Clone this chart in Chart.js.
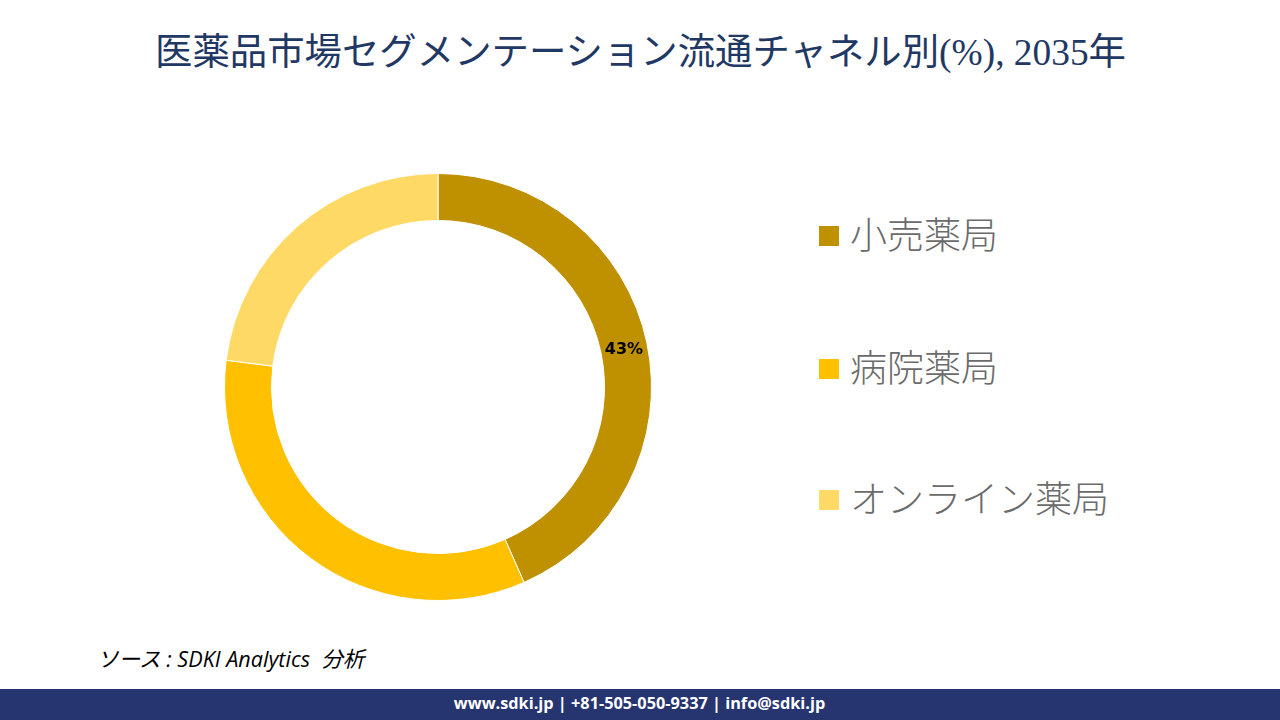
<!DOCTYPE html>
<html lang="ja">
<head>
<meta charset="utf-8">
<script src="https://cdn.jsdelivr.net/npm/chart.js@4"></script>
<style>
  html, body { margin: 0; padding: 0; background: #fff; }
  #page { position: relative; width: 1280px; height: 720px; overflow: hidden; }
  #title { position: absolute; left: 0; width: 1281px; top: 22px; text-align: center; white-space: nowrap;
    font: 400 37.4px "Liberation Serif", "Noto Sans CJK JP", serif; color: #1f3864; }
  #chartBox { position: absolute; left: 208px; top: 157px; width: 460px; height: 460px; }
  .legend-item { position: absolute; left: 819px; height: 40px; line-height: 40px; white-space: nowrap;
    font: 300 37px/40px "Noto Sans CJK JP", sans-serif; color: #6b6b6b; }
  .legend-item i { position: absolute; left: 0; top: 10px; width: 20px; height: 20px; }
  .legend-item span { position: absolute; left: 31px; top: -3px; }
  #source { position: absolute; left: 97px; top: 642px; white-space: nowrap; font: italic 400 21.6px "Open Sans", "Noto Sans CJK JP", sans-serif; color: #000; }
  #footer { position: absolute; left: -1px; top: 689px; width: 1281px; height: 31px; background: #263570; color: #fff;
    text-align: center; font: 700 16.3px/28px "Open Sans", sans-serif; }
</style>
</head>
<body>
<div id="page">
  <div id="title">医薬品市場セグメンテーション流通チャネル別(%), 2035年</div>
  <div id="chartBox"><canvas id="shareChart"></canvas></div>
  <div id="legend"></div>
  <div id="source">ソース : SDKI Analytics&nbsp; 分析</div>
  <div id="footer">www.sdki.jp | +81-505-050-9337 | info@sdki.jp</div>
</div>
<script>
const categories = ['小売薬局', '病院薬局', 'オンライン薬局'];
const shares = [43.4, 33.6, 23];
const shareLabels = ['43%', '', ''];
const colors = ['#BF9000', '#FFC000', '#FFD966'];
const legendTops = [216, 349, 480];

// label sits in the middle of the ring segment
const sliceLabels = {
    id: 'sliceLabels',
    afterDatasetsDraw(chart) {
        const ctx = chart.ctx;
        ctx.save();
        ctx.font = '700 16px "DejaVu Sans", sans-serif';
        ctx.fillStyle = '#000';
        ctx.textAlign = 'center';
        ctx.textBaseline = 'middle';
        chart.getDatasetMeta(0).data.forEach(function (arc, i) {
            if (!shareLabels[i]) return;
            const p = arc.getCenterPoint();
            ctx.fillText(shareLabels[i], p.x, p.y + 2);
        });
        ctx.restore();
    }
};

new Chart(document.getElementById('shareChart').getContext('2d'), {
    type: 'doughnut',
    data: {
        labels: categories,
        datasets: [{
            data: shares,
            backgroundColor: colors,
            borderColor: '#fff',
            borderWidth: 1
        }]
    },
    options: {
        responsive: true,
        maintainAspectRatio: false,
        animation: false,
        cutout: '78%',
        layout: { padding: 16 },
        plugins: {
            legend: { display: false },
            tooltip: { enabled: false }
        }
    },
    plugins: [sliceLabels]
});

const legendBox = document.getElementById('legend');
categories.forEach(function (name, i) {
    const item = document.createElement('div');
    item.className = 'legend-item';
    item.style.top = legendTops[i] + 'px';
    item.innerHTML = '<i style="background:' + colors[i] + '"></i><span>' + name + '</span>';
    legendBox.appendChild(item);
});
</script>
</body>
</html>
